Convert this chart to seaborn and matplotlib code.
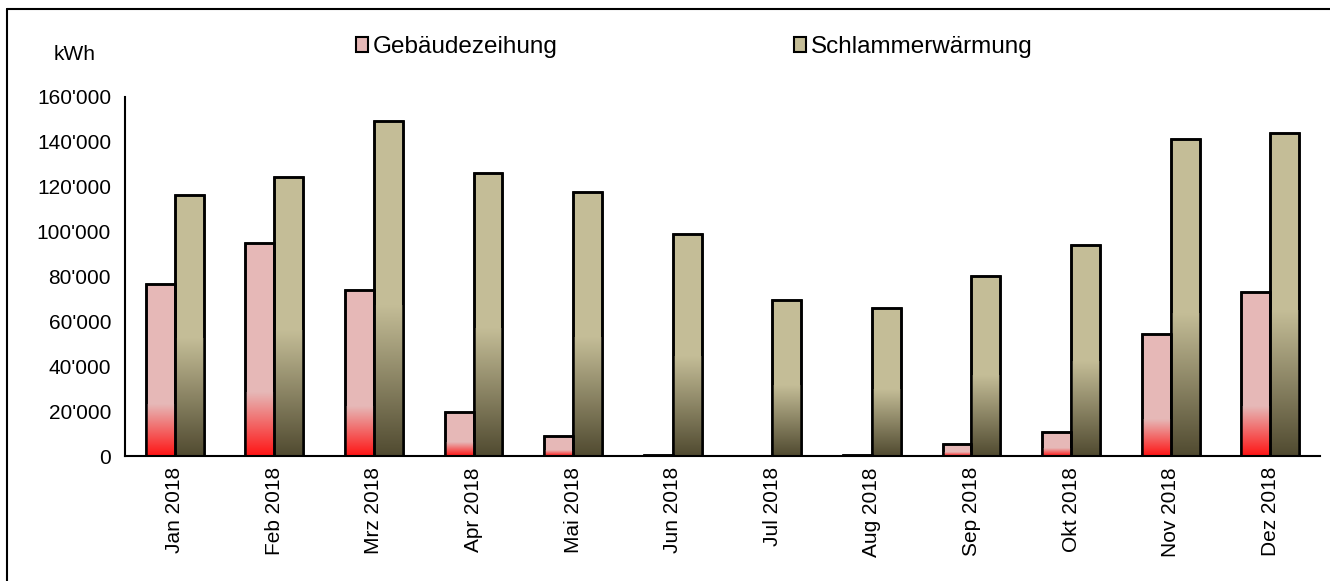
import numpy as np
import pandas as pd
import matplotlib
matplotlib.use("Agg")
import matplotlib.pyplot as plt
import seaborn as sns
from matplotlib.patches import Patch, Rectangle
from matplotlib.lines import Line2D
from matplotlib.colors import to_rgb

months = ["Jan 2018", "Feb 2018", "Mrz 2018", "Apr 2018", "Mai 2018", "Jun 2018",
          "Jul 2018", "Aug 2018", "Sep 2018", "Okt 2018", "Nov 2018", "Dez 2018"]
gebaeude = [76500, 94800, 74000, 19700, 8900, 300, 0, 300, 5500, 10700, 54400, 73000]
schlamm = [116300, 124300, 149300, 126000, 117500, 98900, 69500, 66000, 80200, 94000, 141300, 143900]
series_names = ["Gebäudezeihung", "Schlammerwärmung"]
yticks = [0, 20000, 40000, 60000, 80000, 100000, 120000, 140000, 160000]
ytick_labels = ["0", "20'000", "40'000", "60'000", "80'000", "100'000", "120'000", "140'000", "160'000"]

top_colors = ["#E6B8B7", "#C4BD97"]
bottom_colors = ["#FF1414", "#504A30"]
grad_frac = [0.30, 0.45]

sns.set_style("white")
plt.rcParams['font.family'] = ['Liberation Sans', 'DejaVu Sans']
plt.rcParams['text.color'] = 'black'
plt.rcParams['xtick.color'] = 'black'
plt.rcParams['ytick.color'] = 'black'

df = pd.DataFrame({
    "Monat": months * 2,
    "Wert": gebaeude + schlamm,
    "Serie": [series_names[0]] * 12 + [series_names[1]] * 12,
})

fig = plt.figure(figsize=(13.3, 5.81), dpi=100)
ax = fig.add_axes([125 / 1330, 1 - 456 / 581, (1320 - 125) / 1330, (456 - 97) / 581])

sns.barplot(data=df, x="Monat", y="Wert", hue="Serie", order=months,
            hue_order=series_names, palette=top_colors, width=0.58,
            edgecolor="black", linewidth=1.8, legend=False, ax=ax, saturation=1)

# gradient overlays per bar
for si, cont in enumerate(ax.containers):
    c0 = np.array(to_rgb(bottom_colors[si]))
    c1 = np.array(to_rgb(top_colors[si]))
    t = np.linspace(0, 1, 256)[:, None]
    grad = (c0[None, :] * (1 - t) + c1[None, :] * t)[:, None, :]
    for p in cont.patches:
        x, w, h = p.get_x(), p.get_width(), p.get_height()
        if h <= 0:
            continue
        p.set_zorder(2)
        ax.imshow(grad, extent=[x, x + w, 0, h * grad_frac[si]], origin="lower",
                  aspect="auto", zorder=2.5, interpolation="bilinear")
        ax.add_patch(Rectangle((x, 0), w, h, fill=False, edgecolor="black",
                               linewidth=1.8, zorder=3))

ax.set_xlim(-0.5, 11.5)
ax.set_ylim(0, 160000)
ax.set_yticks(yticks)
ax.set_yticklabels(ytick_labels, fontsize=15)
ax.set_xticks(range(12))
ax.set_xticklabels(months, rotation=90, fontsize=15)
ax.set_xticks(np.arange(-0.5, 12, 1), minor=True)
ax.tick_params(axis="x", which="major", length=0, pad=8)
ax.tick_params(axis="x", which="minor", length=7, width=1.5, color="black", direction="out")
ax.tick_params(axis="y", length=6, width=1.5, color="black", direction="out", pad=4)
ax.set_xlabel("")
ax.set_ylabel("")
for s in ["top", "right"]:
    ax.spines[s].set_visible(False)
for s in ["left", "bottom"]:
    ax.spines[s].set_color("black")
    ax.spines[s].set_linewidth(1.5)
ax.spines["bottom"].set_zorder(4)

fig.text(75 / 1330, 1 - 55 / 581, "kWh", ha="center", va="center", fontsize=15)

handles = [Patch(facecolor=top_colors[0], edgecolor="black", linewidth=1.5),
           Patch(facecolor=top_colors[1], edgecolor="black", linewidth=1.5)]
fig.legend(handles, series_names, loc="center left",
           bbox_to_anchor=(356 / 1330, 1 - 47 / 581), ncol=2, frameon=False,
           fontsize=17.5, handlelength=0.5, handleheight=0.55, handletextpad=0.2,
           columnspacing=9.7, borderpad=0, borderaxespad=0)

# outer chart border
fig.add_artist(Line2D([7 / 1330, 7 / 1330], [-0.1, 1 - 9 / 581], transform=fig.transFigure,
                      color="black", linewidth=1.5))
fig.add_artist(Line2D([7 / 1330, 1.1], [1 - 9 / 581, 1 - 9 / 581], transform=fig.transFigure,
                      color="black", linewidth=1.5))

fig.savefig("out.png", dpi=100)
